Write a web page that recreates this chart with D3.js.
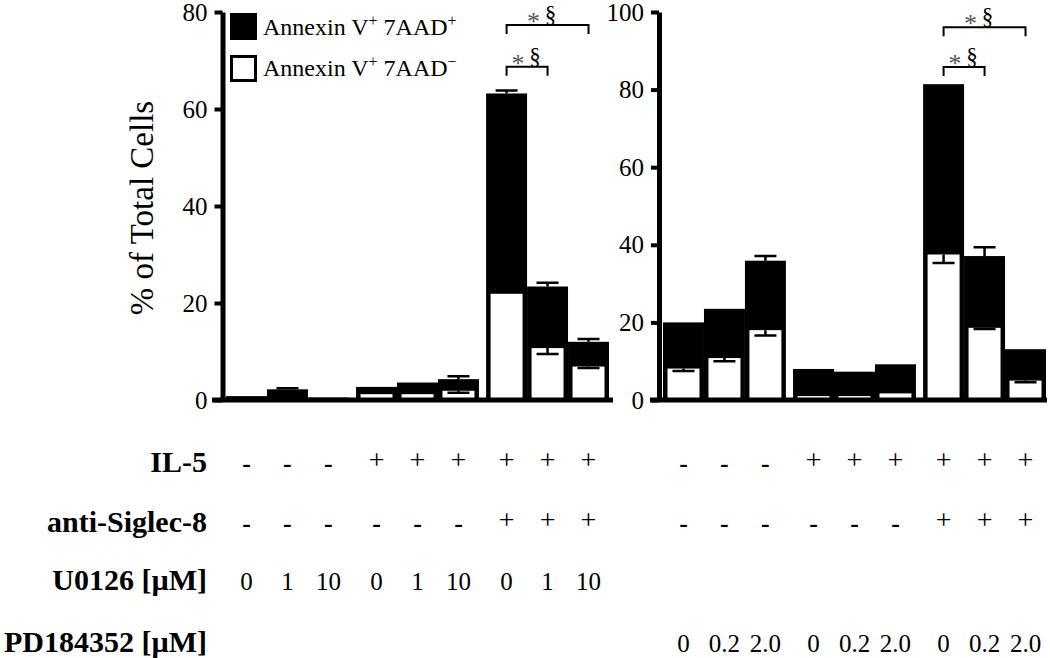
<!DOCTYPE html>
<html>
<head>
<meta charset="utf-8">
<script src="https://cdn.jsdelivr.net/npm/d3@7"></script>
<style>
  html, body { margin: 0; padding: 0; background: #fff; }
  svg { display: block; }
  svg text { font-family: "Liberation Serif", "Times New Roman", serif !important; }
</style>
</head>
<body>
<svg id="chart" width="1050" height="658"></svg>
<script>
// ---------- data ----------
const leftTicks = [0, 20, 40, 60, 80];
const rightTicks = [0, 20, 40, 60, 80, 100];

// Annexin V+ total (black, stacked top) and Annexin V+ 7AAD- (white) per condition
const leftTotal    = [0.8, 2.2, 0.5, 2.7, 3.6, 4.3, 63.2, 23.4, 12.0];
const leftTotalErr = [0.0, 0.2, 0.0, 0.0, 0.0, 0.6, 0.6, 0.8, 0.6];
const leftWhite    = [0.2, 0.4, 0.1, 1.2, 1.2, 1.9, 21.9, 10.7, 6.9];
const leftWhiteErr = [0.0, 0.0, 0.0, 0.0, 0.0, 0.4, 0.0, 1.2, 0.3];

const rightTotal    = [20.0, 23.5, 35.9, 8.0, 7.3, 9.2, 81.4, 37.1, 13.1];
const rightTotalErr = [0.0, 0.0, 1.2, 0.0, 0.0, 0.0, 0.0, 2.3, 0.0];
const rightWhite    = [8.1, 10.8, 18.0, 1.0, 1.0, 1.7, 37.5, 18.6, 5.0];
const rightWhiteErr = [0.6, 0.8, 1.4, 0.0, 0.0, 0.0, 2.2, 0.3, 0.4];

const il5Row    = ["-", "-", "-", "+", "+", "+", "+", "+", "+"];
const siglecRow = ["-", "-", "-", "-", "-", "-", "+", "+", "+"];
const u0126Row  = ["0", "1", "10", "0", "1", "10", "0", "1", "10"];
const pdRow     = ["0", "0.2", "2.0", "0", "0.2", "2.0", "0", "0.2", "2.0"];

const rowLabels = ["IL-5", "anti-Siglec-8", "U0126 [\u00B5M]", "PD184352 [\u00B5M]"];

// significance brackets: bar indices and level (data units of each panel)
const leftBrackets  = [{ from: 6, to: 8, level: 77.3 }, { from: 6, to: 7, level: 68.7 }];
const rightBrackets = [{ from: 6, to: 8, level: 96.1 }, { from: 6, to: 7, level: 85.8 }];

// ---------- drawing ----------
const FONT = "Liberation Serif";
const svg = d3.select("#chart");
svg.append("rect").attr("width", 1050).attr("height", 658).attr("fill", "#fff");

const groups = [0, 1, 2];
const within = [0, 1, 2];

function panel(opts) {
  const { y, ticks, xRange, total, totalErr, white, whiteErr, brackets, xAxisStart, xAxisEnd, axisX, upperShift } = opts;
  const g = svg.append("g");
  const gx = d3.scaleBand().domain(groups).range(xRange).paddingInner(0.055).paddingOuter(0);
  const bx = d3.scaleBand().domain(within).range([0, gx.bandwidth()]).padding(0);
  const cx = i => gx(Math.floor(i / 3)) + bx(i % 3);
  const bw = bx.bandwidth();
  const inset = 4.5;
  const capW = 22;

  const idx = d3.range(total.length);

  g.selectAll("rect.blk").data(idx).join("rect")
    .attr("x", i => cx(i)).attr("width", bw)
    .attr("y", i => y(total[i])).attr("height", i => y(0) - y(total[i]))
    .attr("fill", "#000");

  const te = idx.filter(i => totalErr[i] > 0);
  g.selectAll("path.terr").data(te).join("path")
    .attr("d", i => {
      const c = cx(i) + bw / 2, y1 = y(total[i]), y2 = y(total[i] + totalErr[i]);
      return `M${c},${y1}V${y2}M${c - capW / 2},${y2}H${c + capW / 2}`;
    })
    .attr("stroke", "#000").attr("stroke-width", 2.5).attr("fill", "none");

  g.selectAll("rect.wht").data(idx).join("rect")
    .attr("x", i => cx(i) + inset).attr("width", bw - 2 * inset)
    .attr("y", i => y(white[i])).attr("height", i => y(0) - y(white[i]))
    .attr("fill", "#fff");

  const we = idx.filter(i => whiteErr[i] > 0);
  g.selectAll("path.werr").data(we).join("path")
    .attr("d", i => {
      const c = cx(i) + bw / 2, y1 = y(white[i]), y2 = y(white[i] - whiteErr[i]);
      return `M${c},${y1}V${y2}M${c - capW / 2},${y2}H${c + capW / 2}`;
    })
    .attr("stroke", "#000").attr("stroke-width", 2.5).attr("fill", "none");

  const ax = g.append("g").attr("transform", `translate(${axisX},0)`)
    .call(d3.axisLeft(y).tickValues(ticks).tickSize(8).tickSizeOuter(0).tickPadding(7));
  ax.attr("font-family", FONT).attr("font-size", 25);
  ax.select(".domain").attr("stroke", "#000").attr("stroke-width", 5);
  ax.selectAll(".tick line").attr("stroke", "#000").attr("stroke-width", 4);
  ax.selectAll(".tick text").attr("font-size", 25).attr("font-family", FONT).attr("fill", "#000");

  g.append("line").attr("x1", xAxisStart).attr("x2", xAxisEnd)
    .attr("y1", y(0)).attr("y2", y(0)).attr("stroke", "#000").attr("stroke-width", 5);

  brackets.forEach((b, k) => {
    const x1 = cx(b.from) + bw / 2, x2 = cx(b.to) + bw / 2, yy = y(b.level);
    g.append("path")
      .attr("d", `M${x1},${yy + 9}V${yy}H${x2}V${yy + 9}`)
      .attr("stroke", "#000").attr("stroke-width", 2).attr("fill", "none");
    const c = (x1 + x2) / 2 + (k === 0 ? upperShift : 0);
    g.append("text").attr("x", c - 9).attr("y", yy + 5)
      .attr("text-anchor", "middle").attr("font-family", FONT).attr("font-size", 26)
      .attr("fill", "#555").text("*");
    g.append("text").attr("x", c + 8).attr("y", yy - 3)
      .attr("text-anchor", "middle").attr("font-family", FONT).attr("font-size", 23)
      .attr("fill", "#000").text("\u00A7");
  });

  return i => cx(i) + bw / 2;
}

const yL = d3.scaleLinear().domain([0, 80]).range([400, 12]);
const yR = d3.scaleLinear().domain([0, 100]).range([400, 12]);

const centerL = panel({
  y: yL, ticks: leftTicks, xRange: [226, 609],
  total: leftTotal, totalErr: leftTotalErr, white: leftWhite, whiteErr: leftWhiteErr,
  brackets: leftBrackets, xAxisStart: 212, xAxisEnd: 613, axisX: 222.5, upperShift: -5
});
const centerR = panel({
  y: yR, ticks: rightTicks, xRange: [663, 1046],
  total: rightTotal, totalErr: rightTotalErr, white: rightWhite, whiteErr: rightWhiteErr,
  brackets: rightBrackets, xAxisStart: 650, xAxisEnd: 1047, axisX: 659, upperShift: -5
});

svg.append("text")
  .attr("transform", "translate(153,208) rotate(-90)")
  .attr("text-anchor", "middle").attr("font-family", FONT).attr("font-size", 33).attr("fill", "#000")
  .text("% of Total Cells");

const lg = svg.append("g");
lg.append("rect").attr("x", 230).attr("y", 13).attr("width", 27).attr("height", 27).attr("fill", "#000");
lg.append("rect").attr("x", 231.5).attr("y", 56.5).attr("width", 24).attr("height", 24)
  .attr("fill", "#fff").attr("stroke", "#000").attr("stroke-width", 3);
function legendText(yBase, sign) {
  const t = lg.append("text").attr("x", 263).attr("y", yBase)
    .attr("font-family", FONT).attr("font-size", 24).attr("fill", "#000");
  t.append("tspan").text("Annexin V");
  t.append("tspan").attr("font-size", 16).attr("dy", -9).text("+");
  t.append("tspan").attr("dy", 9).text(" 7AAD");
  t.append("tspan").attr("font-size", 16).attr("dy", -9).text(sign);
}
legendText(35, "+");
legendText(76, "\u2212");

const rowBase = [472, 532, 590, 652];
rowLabels.forEach((lab, r) => {
  svg.append("text").attr("x", 207).attr("y", rowBase[r])
    .attr("text-anchor", "end").attr("font-family", FONT).attr("font-size", 30)
    .attr("font-weight", "bold").attr("fill", "#000").text(lab);
});

function symbolRow(vals, centers, r) {
  svg.append("g").selectAll("text").data(vals).join("text")
    .attr("x", (d, i) => centers(i))
    .attr("y", d => d === "+" ? rowBase[r] - 3 : rowBase[r])
    .attr("text-anchor", "middle")
    .attr("font-family", FONT)
    .attr("font-size", d => d === "+" ? 28 : (d === "-" ? 26 : 25))
    .attr("font-weight", d => d === "-" ? "bold" : "normal")
    .attr("fill", "#000")
    .text(d => d);
}
symbolRow(il5Row, centerL, 0);
symbolRow(il5Row, centerR, 0);
symbolRow(siglecRow, centerL, 1);
symbolRow(siglecRow, centerR, 1);
symbolRow(u0126Row, centerL, 2);
symbolRow(pdRow, centerR, 3);
</script>
</body>
</html>
